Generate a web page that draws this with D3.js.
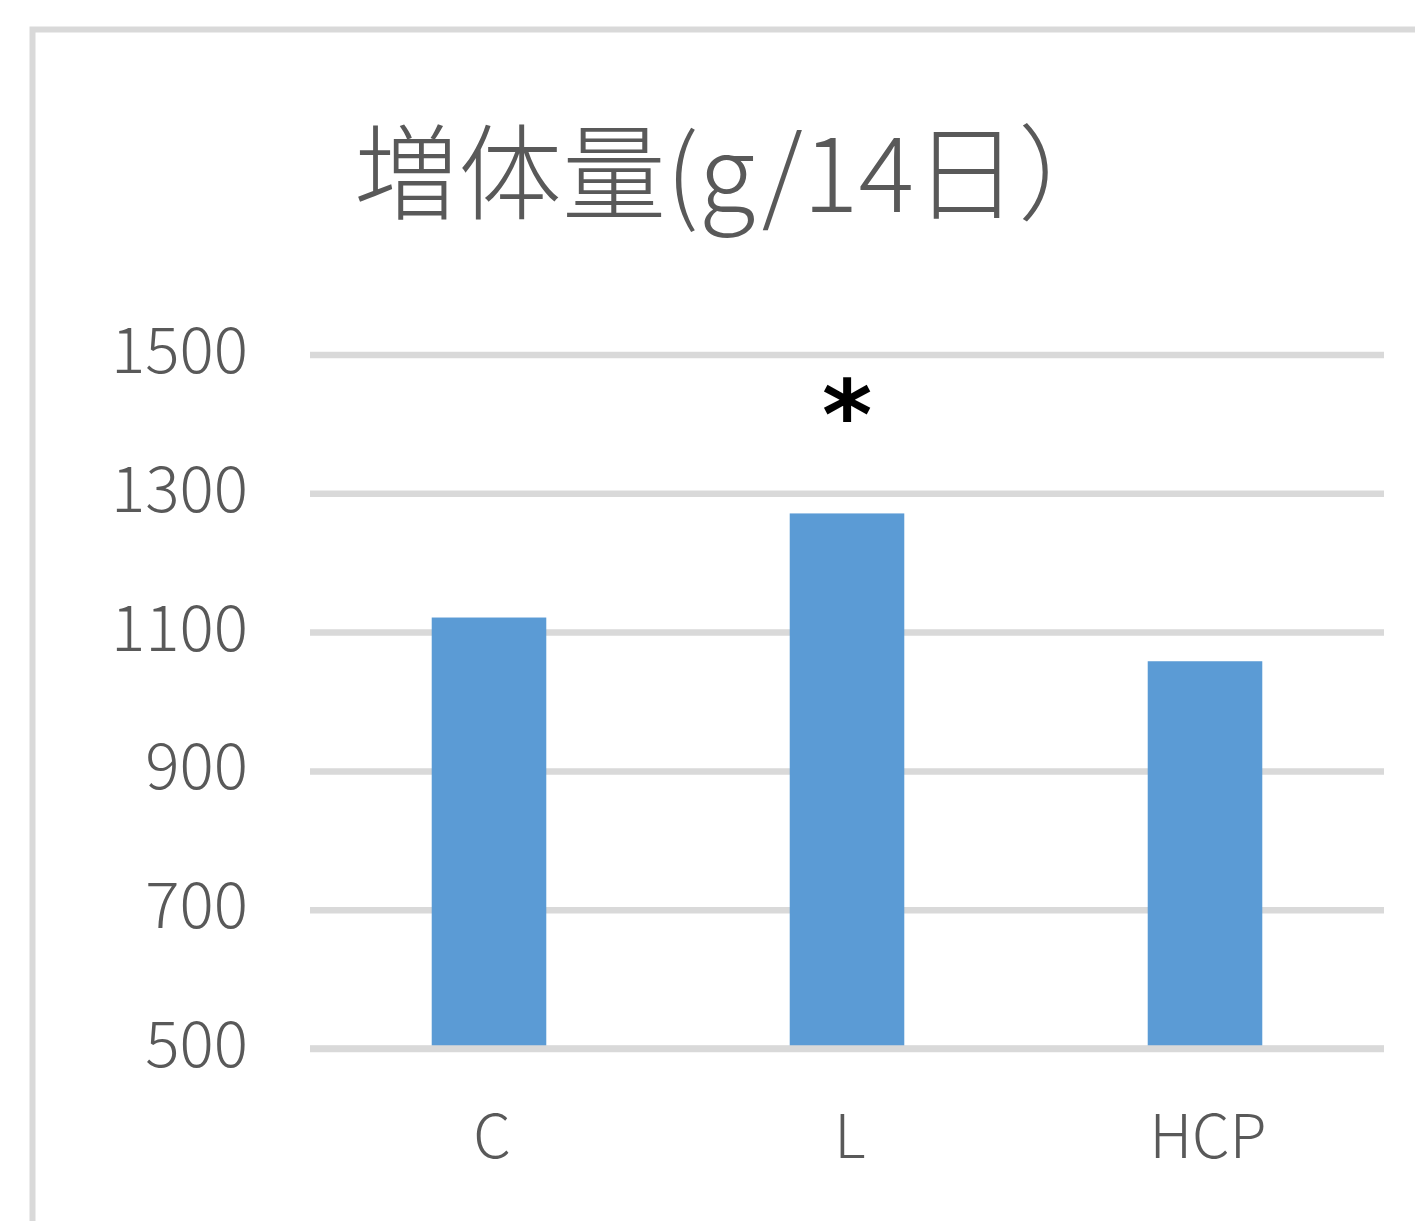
<!DOCTYPE html>
<html>
<head>
<meta charset="utf-8">
<script src="https://cdn.jsdelivr.net/npm/d3@7"></script>
<style>
  html, body { margin: 0; padding: 0; background: #fff; }
  svg { display: block; }
  .tick-label, .cat-label, .title { fill: #595959; font-family: "Noto Sans CJK JP", "Noto Sans", sans-serif; }
</style>
</head>
<body>
<div id="chart"></div>
<script>
/* 増体量 bar chart */

const categories = ["C", "L", "HCP"];
const gains = [1121, 1271, 1058];
const yTicks = [500, 700, 900, 1100, 1300, 1500];
const marks = ["", "*", ""];
const titleText = "増体量(g/14日）";

const size = { width: 1415, height: 1221 };
const plot = { left: 310, right: 1384, top: 354.5, bottom: 1048.5 };

const svg = d3.select("#chart").append("svg")
    .attr("width", size.width)
    .attr("height", size.height);

// chart frame (runs past the right and bottom edges)
svg.append("rect")
    .attr("x", 32.5)
    .attr("y", 29.5)
    .attr("width", 1600)
    .attr("height", 1400)
    .attr("fill", "none")
    .attr("stroke", "#d9d9d9")
    .attr("stroke-width", 6);

const xScale = d3.scaleBand()
    .domain(categories)
    .range([plot.left, plot.right])
    .paddingInner(0.68)
    .paddingOuter(0.34);

const yScale = d3.scaleLinear()
    .domain([500, 1500])
    .range([plot.bottom, plot.top]);

svg.append("text")
    .attr("class", "title")
    .attr("x", 738)
    .attr("y", 212)
    .attr("text-anchor", "middle")
    .style("font-size", "104px")
    .style("font-weight", 300)
    .text(titleText);

// gridlines
const yGrid = d3.axisLeft(yScale)
    .tickValues(yTicks)
    .tickSize(-(plot.right - plot.left))
    .tickFormat("");

const gridG = svg.append("g")
    .attr("transform", "translate(" + plot.left + ",0)")
    .call(yGrid);
gridG.select(".domain").remove();
gridG.selectAll(".tick line")
    .attr("stroke", "#d9d9d9")
    .attr("stroke-width", 6.5);

// y labels
svg.append("g").selectAll("text")
    .data(yTicks)
    .join("text")
    .attr("class", "tick-label")
    .attr("x", 248)
    .attr("y", d => yScale(d) - 4)
    .attr("dy", "0.35em")
    .attr("text-anchor", "end")
    .style("font-size", "64px")
    .style("font-weight", 300)
    .text(d => d);

// bars
svg.append("g").selectAll("rect")
    .data(gains)
    .join("rect")
    .attr("x", (d, i) => xScale(categories[i]))
    .attr("y", d => yScale(d))
    .attr("width", xScale.bandwidth())
    .attr("height", d => yScale(500) - yScale(d))
    .attr("fill", "#5b9bd5");

// baseline over bars
svg.append("line")
    .attr("x1", plot.left)
    .attr("x2", plot.right)
    .attr("y1", yScale(500))
    .attr("y2", yScale(500))
    .attr("stroke", "#d9d9d9")
    .attr("stroke-width", 6.5);

// category labels
svg.append("g").selectAll("text")
    .data(categories)
    .join("text")
    .attr("class", "cat-label")
    .attr("x", d => xScale(d) + xScale.bandwidth() / 2 + 3)
    .attr("y", 1158)
    .attr("text-anchor", "middle")
    .style("font-size", "60px")
    .style("font-weight", 300)
    .text(d => d);

// significance mark
svg.append("g").selectAll("text")
    .data(marks)
    .join("text")
    .attr("x", (d, i) => xScale(categories[i]) + xScale.bandwidth() / 2)
    .attr("y", 449)
    .attr("text-anchor", "middle")
    .style("font-family", "'DejaVu Sans', sans-serif")
    .style("font-weight", "bold")
    .style("font-size", "96px")
    .style("fill", "#000")
    .text(d => d);
</script>
</body>
</html>
